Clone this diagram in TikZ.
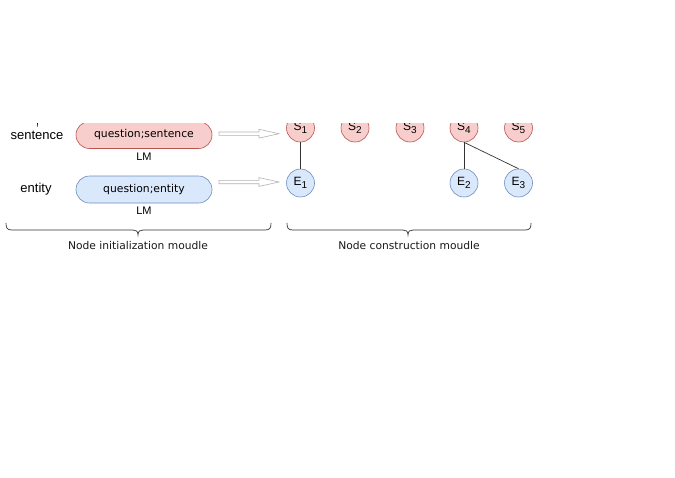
\documentclass[tikz,border=0pt]{standalone}
\usetikzlibrary{calc}
\usepackage{fontspec}
\setmainfont{Liberation Sans}
\newfontfamily\dejavu{DejaVu Sans}
\definecolor{redfill}{HTML}{F8CECC}
\definecolor{redline}{HTML}{B85450}
\definecolor{bluefill}{HTML}{DAE8FC}
\definecolor{blueline}{HTML}{6C8EBF}
\definecolor{arrowline}{HTML}{B3B3B3}
\definecolor{bracecol}{HTML}{333333}
\tikzset{
  pillred/.style={draw=redline, fill=redfill, rounded corners=13.5pt, minimum width=136pt, minimum height=27pt, inner sep=0pt, font=\dejavu\fontsize{10.8}{12}\selectfont, line width=0.6pt},
  pillblue/.style={pillred, draw=blueline, fill=bluefill},
  snode/.style={circle, draw=redline, fill=redfill, minimum size=28pt, inner sep=0pt, font=\fontsize{12}{14}\selectfont, line width=0.6pt},
  enode/.style={snode, draw=blueline, fill=bluefill},
  lbl/.style={font=\fontsize{13}{15}\selectfont, inner sep=0pt},
  lmlbl/.style={font=\fontsize{11}{13}\selectfont, inner sep=0pt},
  modlbl/.style={font=\dejavu\fontsize{10.7}{12}\selectfont, inner sep=0pt, text=black!90},
  blockarrow/.style={draw=arrowline, fill=white, line width=0.6pt, line join=miter},
  edge/.style={draw=bracecol, line width=0.7pt},
  bracestyle/.style={draw=bracecol, line width=0.7pt}
}
\newcommand{\sub}[1]{{\fontsize{10}{10}\selectfont\raisebox{-2.4pt}{#1}}}
\begin{document}
\begin{tikzpicture}[x=1pt,y=-1pt]
\useasboundingbox (0,0) rectangle (675,477);
\begin{scope}
\clip (0,123) rectangle (675,477);
% left labels
\node[lbl] (lsent) at (37,135.5) {sentence};
\node[lbl] (lent) at (36,189) {entity};
\draw[line width=0.6pt] (37.6,123) -- (37.2,126.5);
% pills
\node[pillred] (qs) at (144,135) {question;sentence};
\node[pillblue] (qe) at (144,189.5) {question;entity};
\node[lmlbl] (lm1) at (144,156.5) {LM};
\node[lmlbl] (lm2) at (144,211) {LM};
% circles
\node[snode] (S1) at (300.5,128) {S\sub{1}};
\node[snode] (S2) at (355,128) {S\sub{2}};
\node[snode] (S3) at (410,128) {S\sub{3}};
\node[snode] (S4) at (464,128) {S\sub{4}};
\node[snode] (S5) at (518.5,128) {S\sub{5}};
\node[enode] (E1) at (300.5,183) {E\sub{1}};
\node[enode] (E2) at (464,183) {E\sub{2}};
\node[enode] (E3) at (518.5,183) {E\sub{3}};
% block arrows
\coordinate (a1) at (219,133.7);
\coordinate (a2) at (219,182);
\foreach \c in {a1,a2}{
  \draw[blockarrow] ($(\c)+(0,-1.7)$) -- ++(40,0) -- ++(0,-2.7) -- ++(20,4.4) -- ++(-20,4.4) -- ++(0,-2.7) -- ++(-40,0) -- cycle;
}
% edges
\draw[edge] (S1) -- (E1);
\draw[edge] (S4) -- (E2);
\draw[edge] (S4.south) -- (E3.north);
% braces
\draw[bracestyle] (6,223) .. controls (6,228) and (7,230) .. (12,230) -- (133,230) .. controls (136,230) and (138,231) .. (138,235) .. controls (138,231) and (140,230) .. (143,230) -- (265,230) .. controls (270,230) and (271,228) .. (271,223);
\draw[bracestyle] (287,223) .. controls (287,228) and (288,230) .. (293,230) -- (403,230) .. controls (406,230) and (408,231) .. (408,235) .. controls (408,231) and (410,230) .. (413,230) -- (525,230) .. controls (530,230) and (531,228) .. (531,223);
\node[modlbl] (m1) at (138,245.5) {Node initialization moudle};
\node[modlbl] (m2) at (409,245.5) {Node construction moudle};
\end{scope}
\end{tikzpicture}
\end{document}
